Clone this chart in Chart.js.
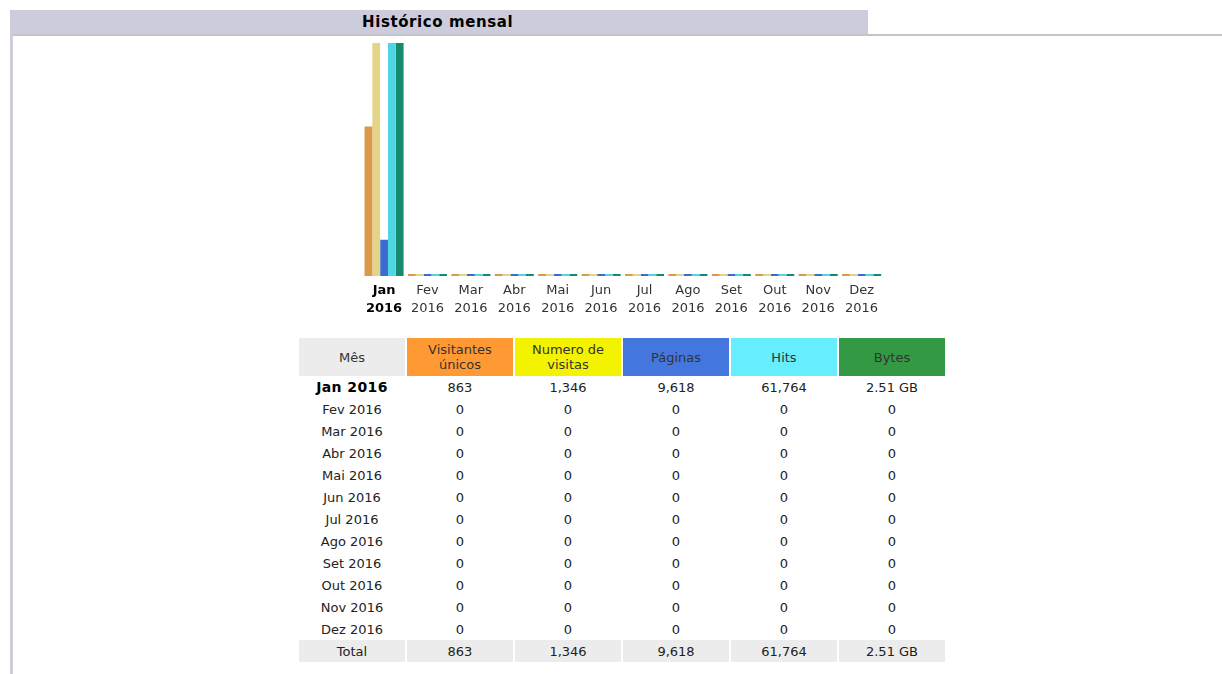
<!DOCTYPE html>
<html>
<head>
<meta charset="utf-8">
<script src="https://cdn.jsdelivr.net/npm/chart.js@4"></script>
<style>
    body { margin: 0; background: #fff; font-family: "DejaVu Sans", Verdana, sans-serif; }
    #frame { position: absolute; left: 10px; top: 10px; width: 1212px; height: 664px; border-left: 3px solid #ccccdd; }
    #head { position: absolute; left: 10px; top: 10px; width: 858px; height: 24px; background: #ccccdd; }
    #head span { position: absolute; left: 352px; top: 3px; font-weight: bold; font-size: 15px; letter-spacing: 0.6px; color: #000; }
    #rule { position: absolute; left: 13px; top: 34px; width: 1209px; height: 2px; background: #c4c4c8; }
    #chartBox { position: absolute; left: 360px; top: 43px; }
    table { position: absolute; left: 297px; top: 338px; border-collapse: separate; border-spacing: 2px 0; font-size: 13px; color: #222; }
    th { font-weight: normal; height: 36px; width: 104px; line-height: 15px; color: #333; }
    td { height: 22px; text-align: center; padding: 0; }
    td.mes0 { font-weight: bold; color: #000; font-size: 14px; letter-spacing: 0.4px; }
    tr.total td { background: #ececec; }
</style>
</head>
<body>
<div id="frame"></div>
<div id="head"><span>Histórico mensal</span></div>
<div id="rule"></div>
<div id="chartBox"><canvas id="grafico" width="524" height="280"></canvas></div>
<table id="tabela"></table>
<script>
    const meses = ['Jan', 'Fev', 'Mar', 'Abr', 'Mai', 'Jun', 'Jul', 'Ago', 'Set', 'Out', 'Nov', 'Dez'];
    const ano = '2016';
    const visitantes = [863, 0, 0, 0, 0, 0, 0, 0, 0, 0, 0, 0];
    const visitas = [1346, 0, 0, 0, 0, 0, 0, 0, 0, 0, 0, 0];
    const paginas = [9618, 0, 0, 0, 0, 0, 0, 0, 0, 0, 0, 0];
    const hits = [61764, 0, 0, 0, 0, 0, 0, 0, 0, 0, 0, 0];
    const bytesGB = [2.51, 0, 0, 0, 0, 0, 0, 0, 0, 0, 0, 0];

    // visitantes/visitas dividem a mesma escala, páginas/hits outra, bytes a sua
    const maxV = Math.max(...visitantes, ...visitas);
    const maxP = Math.max(...paginas, ...hits);
    const maxB = Math.max(...bytesGB);

    function serie(label, data, cor, eixo) {
        return {
            label: label,
            data: data,
            backgroundColor: cor,
            yAxisID: eixo,
            minBarLength: 2,
            barPercentage: 1,
            categoryPercentage: 0.9
        };
    }

    new Chart(document.getElementById('grafico').getContext('2d'), {
        type: 'bar',
        data: {
            labels: meses.map(m => [m, ano]),
            datasets: [
                serie('Visitantes únicos', visitantes, '#dc9a48', 'yv'),
                serie('Numero de visitas', visitas, '#e2d58a', 'yv'),
                serie('Páginas', paginas, '#3a6cd0', 'yp'),
                serie('Hits', hits, '#4fd6e2', 'yp'),
                serie('Bytes', bytesGB, '#16896e', 'yb')
            ]
        },
        options: {
            responsive: false,
            animation: false,
            layout: { padding: 0 },
            plugins: { legend: { display: false } },
            scales: {
                x: {
                    grid: { display: false, drawTicks: false },
                    border: { display: false },
                    ticks: {
                        color: ctx => ctx.index === 0 ? '#000' : '#333',
                        font: ctx => ({ family: 'DejaVu Sans', size: 13, weight: ctx.index === 0 ? 'bold' : 'normal', lineHeight: 1.35 }),
                        maxRotation: 0,
                        autoSkip: false,
                        padding: 6
                    }
                },
                yv: { display: false, min: 0, max: maxV },
                yp: { display: false, min: 0, max: maxP },
                yb: { display: false, min: 0, max: maxB }
            }
        }
    });

    // tabela
    const fmt = n => n.toLocaleString('en-US');
    const fmtB = n => n === 0 ? '0' : n.toFixed(2) + ' GB';
    const cabecalho = [
        ['Mês', '#ececec'],
        ['Visitantes<br>únicos', '#ff9933'],
        ['Numero de<br>visitas', '#f3f300'],
        ['Páginas', '#4477dd'],
        ['Hits', '#66eeff'],
        ['Bytes', '#339944']
    ];
    let html = '<tr>' + cabecalho.map(c => `<th style="background:${c[1]}">${c[0]}</th>`).join('') + '</tr>';
    meses.forEach((m, i) => {
        const cls = i === 0 ? ' class="mes0"' : '';
        html += `<tr><td${cls}>${m} ${ano}</td><td>${fmt(visitantes[i])}</td><td>${fmt(visitas[i])}</td>` +
            `<td>${fmt(paginas[i])}</td><td>${fmt(hits[i])}</td><td>${fmtB(bytesGB[i])}</td></tr>`;
    });
    const soma = a => a.reduce((s, v) => s + v, 0);
    html += `<tr class="total"><td>Total</td><td>${fmt(soma(visitantes))}</td><td>${fmt(soma(visitas))}</td>` +
        `<td>${fmt(soma(paginas))}</td><td>${fmt(soma(hits))}</td><td>${fmtB(soma(bytesGB))}</td></tr>`;
    document.getElementById('tabela').innerHTML = html;
</script>
</body>
</html>
